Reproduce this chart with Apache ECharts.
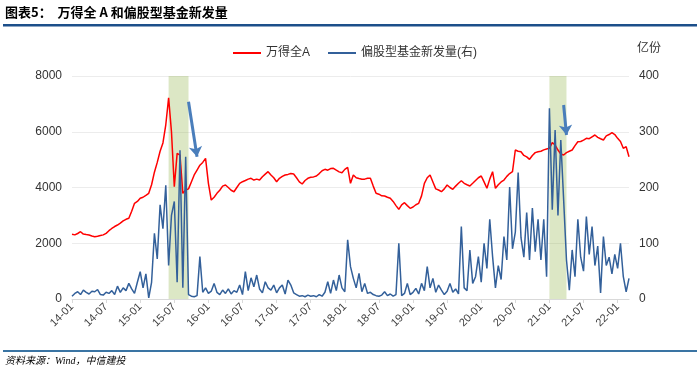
<!DOCTYPE html>
<html>
<head>
<meta charset="utf-8">
<script src="https://cdn.jsdelivr.net/npm/echarts@6/dist/echarts.min.js"></script>
<style>
html,body{margin:0;padding:0;background:#fff;}
#chart{width:700px;height:378px;}
</style>
</head>
<body>
<div id="chart"></div>
<script>
// Semi-monthly observations, 2014-01 .. 2022-03
const tickLabels = ['14-01','14-07','15-01','15-07','16-01','16-07','17-01','17-07','18-01','18-07','19-01','19-07','20-01','20-07','21-01','21-07','22-01'];

const windAllA = [
  2320,2300,2350,2414,2330,2310,2296,2260,2235,2250,2280,2300,
  2355,2450,2530,2600,2654,2720,2800,2860,2894,3150,3432,3500,
  3612,3650,3720,3791,4100,4550,4900,5300,5600,6250,7216,6000,
  4028,5226,5165,3790,3910,3950,4200,4450,4627,4800,4900,5047,
  4150,3551,3650,3790,3900,4050,4089,4000,3900,3849,4000,4150,
  4208,4250,4300,4330,4268,4300,4268,4388,4480,4567,4450,4350,
  4208,4330,4400,4448,4470,4500,4484,4350,4200,4125,4250,4330,
  4365,4380,4412,4500,4600,4652,4620,4680,4688,4620,4560,4531,
  4650,4724,4150,4448,4350,4320,4294,4300,4330,4330,4050,3791,
  3760,3700,3695,3650,3612,3500,3350,3217,3380,3454,3350,3253,
  3300,3380,3432,3700,4150,4350,4448,4200,3950,3910,3849,3950,
  4089,4000,3935,4050,4150,4244,4150,4100,4053,4150,4250,4350,
  4412,4200,3971,4300,4567,3971,4100,4200,4268,4400,4500,4567,
  5345,5300,5285,5150,5100,5011,5150,5250,5285,5300,5350,5380,
  5405,5607,5524,5345,5200,5165,5250,5300,5345,5500,5643,5650,
  5700,5764,5750,5820,5883,5800,5750,5703,5850,5900,5966,5900,
  5764,5650,5405,5464,5105
];

const fundIssue = [
  5,10,13,8,16,12,9,14,13,17,8,7,
  12,10,15,8,23,12,20,15,28,18,10,30,
  49,20,45,2,30,118,72,169,126,204,60,150,
  175,30,267,20,255,8,5,4,6,76,12,20,
  10,14,28,12,8,16,10,18,9,15,12,25,
  8,49,15,38,22,43,18,11,31,20,16,25,
  11,20,25,9,34,25,11,8,5,6,4,7,
  5,6,4,8,5,12,31,10,34,15,43,20,
  13,106,58,37,20,46,13,28,10,12,8,6,
  5,7,13,6,9,5,8,100,6,10,28,8,
  12,19,9,28,15,58,20,37,12,25,16,8,
  14,28,12,18,9,130,20,15,88,28,40,76,
  30,100,55,143,76,20,60,35,112,70,201,90,
  120,227,110,75,155,70,163,85,143,70,143,40,
  342,160,303,150,285,178,70,16,88,40,143,75,
  50,148,80,130,60,95,11,112,60,75,45,80,
  55,100,40,13,37
];

// category dates (1st and 16th of each month)
const categories = [];
for (let y = 2014; y <= 2022 && categories.length < windAllA.length; y++) {
  for (let m = 1; m <= 12 && categories.length < windAllA.length; m++) {
    for (const d of ['01','16']) {
      if (categories.length < windAllA.length) categories.push(y + '-' + String(m).padStart(2,'0') + '-' + d);
    }
  }
}

// highlight bands (category index ranges) and arrows [fromIdx, fromVal, toIdx, toVal]
const bands = [[34, 41], [168, 174]];
const arrows = [[41, 7078, 44, 5105], [173, 6960, 174, 5883]];

const chart = echarts.init(document.getElementById('chart'), null, {renderer: 'canvas'});
const font = '"Liberation Sans", Arial, "Noto Sans CJK SC", sans-serif';

chart.setOption({
  animation: false,
  backgroundColor: '#fff',
  grid: {left: 72, right: 71, top: 76, bottom: 79},
  legend: {
    left: 228, top: 42,
    itemWidth: 28, itemHeight: 2, itemGap: 18,
    icon: 'rect',
    textStyle: {fontSize: 12, color: '#333', fontFamily: font},
    data: ['万得全A', '偏股型基金新发量(右)']
  },
  xAxis: {
    type: 'category',
    data: categories,
    boundaryGap: false,
    axisLine: {lineStyle: {color: '#d9d9d9', width: 1}},
    axisTick: {show: true, interval: 11, length: 4, lineStyle: {color: '#d9d9d9'}},
    axisLabel: {
      interval: 11, rotate: 45, margin: 6, fontSize: 11, color: '#404040', fontFamily: font,
      formatter: (v, i) => tickLabels[Math.round(i / 12)] || ''
    },
    splitLine: {show: false}
  },
  yAxis: [
    {
      type: 'value', min: 0, max: 8000, interval: 2000,
      axisLine: {show: false}, axisTick: {show: false},
      axisLabel: {fontSize: 12, color: '#333', margin: 10, fontFamily: font, formatter: v => String(v)},
      splitLine: {lineStyle: {color: '#ececec'}}
    },
    {
      type: 'value', min: 0, max: 400, interval: 100,
      name: '亿份', nameLocation: 'end', nameGap: 21,
      nameTextStyle: {fontSize: 12, color: '#333', align: 'left', padding: [0,0,0,8], fontFamily: font},
      axisLine: {show: false}, axisTick: {show: false},
      axisLabel: {fontSize: 12, color: '#333', margin: 10, fontFamily: font, formatter: v => String(v)},
      splitLine: {show: false}
    }
  ],
  series: [
    {
      name: '万得全A', type: 'line', yAxisIndex: 0, data: windAllA,
      showSymbol: false, symbol: 'none',
      lineStyle: {color: '#ff0000', width: 1.5}, itemStyle: {color: '#ff0000'}, z: 2
    },
    {
      name: '偏股型基金新发量(右)', type: 'line', yAxisIndex: 1, data: fundIssue,
      showSymbol: false, symbol: 'none',
      lineStyle: {color: '#33609a', width: 1.5}, itemStyle: {color: '#33609a'}, z: 3
    },
    {
      name: 'annot', type: 'line', yAxisIndex: 0, data: [], zlevel: 1, z: 10, silent: true,
      markArea: {
        silent: true,
        itemStyle: {color: 'rgba(155,187,89,0.35)'},
        data: bands.map(b => [{xAxis: categories[b[0]]}, {xAxis: categories[b[1]]}])
      },
      markLine: {
        silent: true,
        symbol: ['none', 'arrow'], symbolSize: 10,
        label: {show: false},
        lineStyle: {color: '#4a7ebb', width: 3, type: 'solid'},
        data: arrows.map(a => [{coord: [categories[a[0]], a[1]]}, {coord: [categories[a[2]], a[3]]}])
      }
    }
  ],
  graphic: [
    {type: 'text', left: 5, top: 6, style: {text: '图表5：  万得全 A 和偏股型基金新发量', font: 'bold 13px "Noto Sans CJK SC", sans-serif', fill: '#000'}},
    {type: 'rect', shape: {x: 3, y: 24, width: 694, height: 2.5}, style: {fill: '#1c4f8a'}},
    {type: 'rect', shape: {x: 3, y: 350, width: 694, height: 2}, style: {fill: '#3a74a3'}},
    {type: 'text', left: 5, top: 356, style: {text: '资料来源：Wind，中信建投', font: 'italic 10px "Liberation Serif", "Noto Sans CJK SC", serif', fill: '#000'}}
  ]
});
</script>
</body>
</html>
